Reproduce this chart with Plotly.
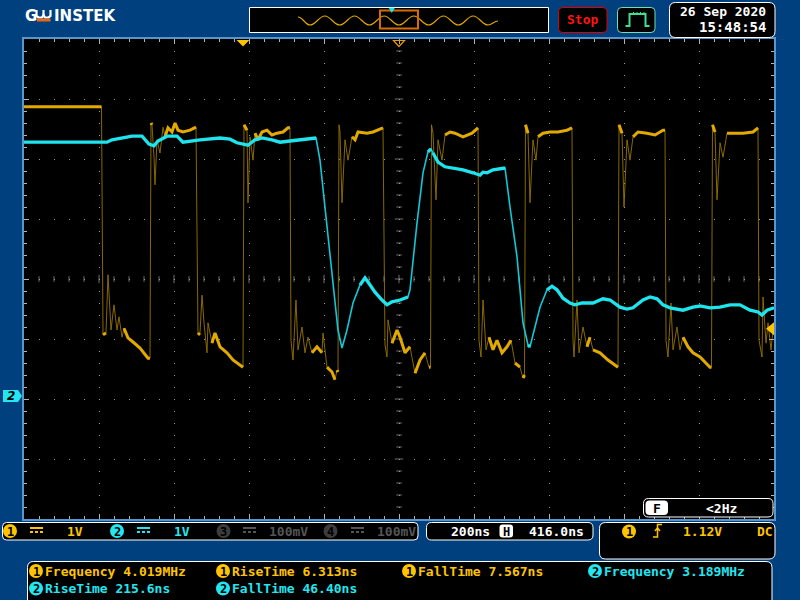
import plotly.graph_objects as go

time_per_div_ns = 200
horiz_pos_ns = 416.0
volts_per_div = 1.0
screen_center_v = 1.95          # ground of both channels sits 1.95 div below centre
trigger_level_v = 1.12
trigger_time_ns = 0.0

ch1_time_ns = [
    -584, -377.3, -373.3, -365.3, -360, -352, -344, -336, -330.7, -322.7, -317.3, -306.7, -293.3, -274.7, -253.3, -248,
    -245.3, -242.7, -237.3, -234.7, -229.3, -221.3, -213.3, -208, -200, -189.3, -181.3, -173.3, -160, -141.3, -128, -125.3,
    -120, -114.7, -109.3, -104, -96, -93.3, -82.7, -74.7, -61.3, -42.7, -26.7, -2.7, 0,
    2.7, 10.7, 13.3, 18.7, 26.7, 32, 40, 50.7, 64, 77.3, 90.7, 106.7, 120, 125.3,
    128, 133.3, 141.3, 146.7, 157.3, 165.3, 173.3, 184, 197.3, 210.7, 213.3, 224, 237.3, 245.3, 250.7, 253.3,
    256, 258.7, 264, 272, 280, 290.7, 298.7, 306.7, 330.7, 346.7, 370.7, 373.3,
    378.7, 384, 386.7, 397.3, 410.7, 418.7, 432, 445.3, 458.7, 472, 485.3, 496, 500,
    502.7, 506.7, 514.7, 520, 530.7, 538.7, 552, 565.3, 586.7, 610.7, 624, 626.7,
    629.3, 634.7, 640, 648, 656, 666.7, 677.3, 690.7, 704, 714.7, 725.3, 738.7, 746.7, 750.7,
    753.3, 760, 765.3, 773.3, 781.3, 786.7, 800, 818.7, 840, 864, 874.7, 877.3,
    880, 882.7, 890.7, 896, 906.7, 917.3, 925.3, 933.3, 952, 973.3, 997.3, 1000,
    1002.7, 1010.7, 1016, 1024, 1032, 1040, 1053.3, 1077.3, 1098.7, 1120, 1125.3,
    1128, 1133.3, 1141.3, 1146.7, 1157.3, 1165.3, 1173.3, 1186.7, 1200, 1218.7, 1245.3, 1249.3,
    1252, 1258.7, 1264, 1272, 1280, 1290.7, 1306.7, 1333.3, 1360, 1372, 1373.3,
    1376, 1384, 1386.7, 1394.7, 1400, 1408, 1413.3, 1416]
ch1_volts = [
    4.82, 4.82, 1.02, 1.05, 2.02, 1.10, 1.52, 1.10, 1.32, 0.98, 1.13, 0.97, 0.90, 0.80, 0.63, 0.63,
    4.55, 4.52, 3.98, 3.52, 4.27, 4.05, 4.48, 4.32, 4.47, 4.40, 4.55, 4.43, 4.40, 4.43, 4.48, 4.48,
    1.02, 1.05, 1.68, 1.22, 0.72, 1.22, 0.88, 1.05, 0.82, 0.72, 0.60, 0.48, 0.48,
    4.52, 4.43, 3.22, 4.32, 3.93, 4.38, 4.27, 4.40, 4.43, 4.35, 4.38, 4.40, 4.47, 4.47,
    0.93, 0.60, 1.60, 0.77, 1.15, 0.72, 0.98, 0.72, 0.82, 0.72, 1.05, 0.48, 0.40, 0.27, 0.43, 0.40,
    4.52, 4.40, 3.22, 4.27, 3.93, 4.32, 4.27, 4.40, 4.38, 4.40, 4.47, 4.47,
    0.85, 0.65, 1.27, 0.88, 1.10, 0.98, 0.72, 0.82, 0.38, 0.60, 0.72, 0.48, 0.48,
    4.52, 4.38, 3.27, 4.27, 3.93, 4.35, 4.40, 4.38, 4.32, 4.38, 4.47, 4.47,
    0.93, 0.65, 1.60, 0.77, 0.98, 0.77, 0.93, 0.72, 0.82, 0.93, 0.55, 0.48, 0.30, 0.35,
    4.52, 4.38, 3.22, 4.27, 3.93, 4.32, 4.38, 4.40, 4.40, 4.43, 4.47, 4.47,
    0.93, 0.65, 1.60, 0.72, 1.15, 0.82, 0.98, 0.77, 0.72, 0.60, 0.48, 0.48,
    4.52, 4.38, 3.15, 4.27, 3.93, 4.32, 4.40, 4.38, 4.35, 4.43, 4.43,
    0.93, 0.65, 1.55, 0.77, 1.15, 0.77, 0.98, 0.82, 0.72, 0.65, 0.48, 0.48,
    4.52, 4.40, 3.27, 4.22, 3.98, 4.38, 4.38, 4.38, 4.40, 4.47, 4.47,
    0.93, 0.65, 1.65, 0.88, 1.22, 0.77, 1.10, 1.02]

ch2_time_ns = [
    -584, -362.7, -349.3, -314.7, -296, -269.3, -250.7, -237.3, -226.7, -202.7, -176, -160, -114.7, -61.3, -34.7,
    -16, 13.3, 32, 50.7, 77.3, 98.7, 125.3, 152, 178.7, 194.7,
    205.3, 232, 253.3, 264, 277.3, 293.3, 312, 325.3, 333.3, 352, 370.7, 384, 397.3, 418.7, 440,
    445.3, 464, 480, 493.3, 501.3, 506.7, 520, 538.7, 560, 586.7, 613.3, 632, 640, 650.7, 666.7, 698.7,
    712, 730.7, 746.7, 760, 765.3, 773.3, 792, 810.7, 824, 837.3, 853.3, 872, 885.3, 904, 933.3, 960, 978.7,
    1005.3, 1024, 1040, 1066.7, 1085.3, 1104, 1120, 1138.7, 1173.3, 1200, 1218.7, 1245.3, 1272, 1298.7,
    1325.3, 1352, 1373.3, 1384, 1397.3, 1416]
ch2_volts = [
    4.23, 4.23, 4.27, 4.30, 4.33, 4.33, 4.20, 4.17, 4.25, 4.33, 4.33, 4.23, 4.27, 4.30, 4.28,
    4.22, 4.18, 4.27, 4.30, 4.27, 4.23, 4.25, 4.27, 4.30, 4.30,
    3.93, 2.35, 1.10, 0.80, 1.10, 1.55, 1.85, 1.97, 1.90, 1.73, 1.60, 1.52, 1.57, 1.60, 1.65,
    1.77, 2.88, 3.72, 4.07, 4.12, 4.05, 3.90, 3.82, 3.80, 3.77, 3.72, 3.68, 3.73, 3.72, 3.77, 3.80,
    3.15, 2.32, 1.22, 0.85, 0.82, 1.02, 1.48, 1.77, 1.83, 1.77, 1.63, 1.55, 1.52, 1.55, 1.55, 1.62, 1.60,
    1.48, 1.45, 1.47, 1.60, 1.65, 1.62, 1.52, 1.47, 1.43, 1.48, 1.50, 1.47, 1.48, 1.52,
    1.52, 1.43, 1.40, 1.35, 1.43, 1.47]

channel_scales = ["1V", "1V", "100mV", "100mV"]
timebase_text = "200ns"
hpos_text = "416.0ns"
trigger_text = "1.12V"
coupling_text = "DC"
counter_text = "<2Hz"
meas_row1 = [("1", "Frequency 4.019MHz"), ("1", "RiseTime 6.313ns"), ("1", "FallTime 7.567ns"), ("2", "Frequency 3.189MHz")]
meas_row2 = [("2", "RiseTime 215.6ns"), ("2", "FallTime 46.40ns")]
date_text = "26 Sep 2020"
time_text = "15:48:54"

# ---------------- styling helpers ----------------
W, H = 800, 600
BG = "#00407F"
YEL = "#FFC400"
CYN = "#22E6F0"
MONO = "DejaVu Sans Mono"
NS_PER_PX = time_per_div_ns / 75.0
V_PER_PX = volts_per_div / 60.0

x_range = [horiz_pos_ns - 5 * time_per_div_ns, horiz_pos_ns + 5 * time_per_div_ns]
y_range = [screen_center_v - 4 * volts_per_div, screen_center_v + 4 * volts_per_div]


def PX(x):
    return x / W


def PY(y):
    return 1 - y / H


shapes = []
annotations = []


def rrect(x0, y0, x1, y1, r, line="white", fill="black", width=1):
    p = (f"M{PX(x0 + r)},{PY(y0)} L{PX(x1 - r)},{PY(y0)} Q{PX(x1)},{PY(y0)} {PX(x1)},{PY(y0 + r)} "
         f"L{PX(x1)},{PY(y1 - r)} Q{PX(x1)},{PY(y1)} {PX(x1 - r)},{PY(y1)} "
         f"L{PX(x0 + r)},{PY(y1)} Q{PX(x0)},{PY(y1)} {PX(x0)},{PY(y1 - r)} "
         f"L{PX(x0)},{PY(y0 + r)} Q{PX(x0)},{PY(y0)} {PX(x0 + r)},{PY(y0)} Z")
    shapes.append(dict(type="path", xref="paper", yref="paper", path=p,
                       line=dict(color=line if line else "rgba(0,0,0,0)", width=width if line else 0),
                       fillcolor=fill, layer="above"))


def rect(x0, y0, x1, y1, fill):
    shapes.append(dict(type="rect", xref="paper", yref="paper", x0=PX(x0), x1=PX(x1), y0=PY(y1), y1=PY(y0),
                       fillcolor=fill, line=dict(width=0), layer="above"))


def poly(pts, color, width=1.5, fill=None, close=False):
    p = "M" + " L".join(f"{PX(x)},{PY(y)}" for x, y in pts) + (" Z" if close else "")
    shapes.append(dict(type="path", xref="paper", yref="paper", path=p,
                       line=dict(color=color, width=width), fillcolor=fill if fill else "rgba(0,0,0,0)",
                       layer="above"))


def text(x, y, s, color="white", size=13, anchor="left", family=MONO, bold=True):
    annotations.append(dict(x=PX(x), y=PY(y), xref="paper", yref="paper",
                            text=f"<b>{s}</b>" if bold else s, showarrow=False,
                            xanchor=anchor, yanchor="middle", borderpad=0,
                            font=dict(family=family, size=size, color=color)))


def badge(cx, cy, digit, fill, r=7):
    shapes.append(dict(type="circle", xref="paper", yref="paper", x0=PX(cx - r), x1=PX(cx + r),
                       y0=PY(cy + r), y1=PY(cy - r), fillcolor=fill, line=dict(width=0), layer="above"))
    text(cx, cy + 0.5, digit, color="black", size=12, anchor="center")


def dc_symbol(x0, y, color):
    rect(x0, y - 3, x0 + 13, y - 1, color)
    for k in range(3):
        rect(x0 + 5 * k, y + 1, x0 + 5 * k + 3, y + 3, color)


def split_dwell(ts, vs, max_slope):
    xs, ys = [], []
    for i in range(len(ts)):
        xs.append(ts[i])
        ys.append(vs[i])
        if i < len(ts) - 1:
            dt = max(ts[i + 1] - ts[i], 1e-9)
            slope = abs(vs[i + 1] - vs[i]) / V_PER_PX / (dt / NS_PER_PX)
            if slope > max_slope:
                xs.append(None)
                ys.append(None)
    return xs, ys


# ---------------- figure ----------------
fig = go.Figure()

# centre-cross ticks of the graticule
cx_ticks = [x_range[0] + 40 * k for k in range(1, 50)]
cy_ticks = [round(y_range[0] + 0.2 * k, 3) for k in range(1, 40)]
fig.add_trace(go.Scatter(x=cx_ticks, y=[screen_center_v] * len(cx_ticks), mode="markers", hoverinfo="skip",
                         marker=dict(symbol="line-ns", size=[6 if k % 5 == 0 else 4 for k in range(1, 50)],
                                     line=dict(color="#a0a0a0", width=1))))
fig.add_trace(go.Scatter(x=[horiz_pos_ns] * len(cy_ticks), y=cy_ticks, mode="markers", hoverinfo="skip",
                         marker=dict(symbol="line-ew", size=[6 if k % 5 == 0 else 4 for k in range(1, 40)],
                                     line=dict(color="#a0a0a0", width=1))))

# channel 1
fig.add_trace(go.Scatter(x=ch1_time_ns, y=ch1_volts, mode="lines", hoverinfo="skip",
                         line=dict(color="rgba(150,115,0,0.9)", width=1)))
tx, ty = split_dwell(ch1_time_ns, ch1_volts, 3.5)
fig.add_trace(go.Scatter(x=tx, y=ty, mode="lines", hoverinfo="skip", connectgaps=False,
                         line=dict(color="#E2AA00", width=3)))
# channel 2
fig.add_trace(go.Scatter(x=ch2_time_ns, y=ch2_volts, mode="lines", hoverinfo="skip",
                         line=dict(color="#10C8D8", width=1.6)))
tx, ty = split_dwell(ch2_time_ns, ch2_volts, 2.0)
fig.add_trace(go.Scatter(x=tx, y=ty, mode="lines", hoverinfo="skip", connectgaps=False,
                         line=dict(color="#1EE4EE", width=3.3)))

# trigger position marker (top, t = 0) and screen-centre marker
hw = 6.5 * NS_PER_PX
shapes.append(dict(type="path", xref="x", yref="paper", layer="above", fillcolor=YEL, line=dict(width=0),
                   path=f"M{trigger_time_ns - hw},{PY(40)} L{trigger_time_ns + hw},{PY(40)} L{trigger_time_ns},{PY(46.5)} Z"))
hw2 = 5.5 * NS_PER_PX
shapes.append(dict(type="path", xref="x", yref="paper", layer="above", fillcolor="rgba(0,0,0,0)",
                   line=dict(color="#E89A00", width=1.2),
                   path=f"M{horiz_pos_ns - hw2},{PY(40.5)} L{horiz_pos_ns + hw2},{PY(40.5)} L{horiz_pos_ns},{PY(46.5)} Z"))
# trigger level marker (right edge)
tl = 8 * NS_PER_PX
dv = 6.5 * V_PER_PX
shapes.append(dict(type="path", xref="x", yref="y", layer="above", fillcolor=YEL, line=dict(width=0),
                   path=f"M{x_range[1]},{trigger_level_v + dv} L{x_range[1]},{trigger_level_v - dv} "
                        f"L{x_range[1] - tl},{trigger_level_v} Z"))
# channel-2 ground marker (left, 0 V)
g = 6 * V_PER_PX
shapes.append(dict(type="path", xref="paper", yref="y", layer="above", fillcolor=CYN, line=dict(width=0),
                   path=f"M{PX(3)},{g} L{PX(18)},{g} L{PX(22)},0 L{PX(18)},{-g} L{PX(3)},{-g} Z"))
annotations.append(dict(x=PX(11), y=0, xref="paper", yref="y", text="<b><i>2</i></b>", showarrow=False,
                        xanchor="center", yanchor="middle", font=dict(family="DejaVu Sans", size=12, color="black")))

# ---------------- top bar ----------------
text(24, 16, "G", size=15, family="DejaVu Sans")
poly([(36.5, 10), (36.5, 16), (38.5, 17.5), (42, 17.5), (43.5, 15), (45, 17.5), (48.5, 17.5), (50.5, 16), (50.5, 10)],
     "white", width=2.2)
poly([(43.5, 10), (43.5, 15)], "white", width=2.2)
rect(37, 18.5, 50.5, 21.5, "#E86A10")
text(53, 16, "INSTEK", size=15, family="DejaVu Sans")

rrect(249.5, 7.5, 548.5, 32.5, 0)
ov = [(298, 17)] + [(310 + 14.83 * k, 25 if k % 2 == 0 else 16) for k in range(13)] + [(498, 21)]
pth = f"M{PX(ov[0][0])},{PY(ov[0][1])}"
for (xa, ya), (xb, yb) in zip(ov[:-1], ov[1:]):
    d = (xb - xa) * 0.4
    pth += f" C{PX(xa + d)},{PY(ya)} {PX(xb - d)},{PY(yb)} {PX(xb)},{PY(yb)}"
shapes.append(dict(type="path", xref="paper", yref="paper", path=pth, layer="above",
                   line=dict(color="#E0A800", width=1.2)))
rrect(380, 10.5, 418, 28.5, 0, line="#D86A00", fill="rgba(0,0,0,0)", width=2)
poly([(389, 8), (394.5, 8), (391.7, 12.5)], CYN, width=0.5, fill=CYN, close=True)

rrect(558.5, 7.5, 607, 32.5, 4, line="#E00000")
text(582.5, 19.5, "Stop", color="#FF1414", size=13, anchor="center")
rrect(617.5, 7.5, 655, 32.5, 4, line="#70E0B0")
poly([(625.5, 26), (629.5, 26), (629.5, 14), (645.5, 14), (645.5, 26), (649.5, 26)], "#40E090", width=2)
for xk in (633, 636.5, 640, 643.5):
    rect(xk, 12, xk + 1, 13, "#40E090")
rrect(669.5, 2.5, 775, 37.5, 6)
text(767, 11.5, date_text, size=13, anchor="right")
text(767, 27.5, time_text, size=14, anchor="right")

# ---------------- frequency counter box ----------------
rrect(643.5, 498.5, 773, 517, 5)
rrect(645.5, 500.5, 668, 515, 4, line=None, fill="white")
text(656.8, 508, "F", color="black", size=13, anchor="center")
text(705, 508, counter_text, size=13)

# ---------------- channel bar ----------------
rrect(2.5, 522.5, 418, 540, 4)
ch_fill = [YEL, CYN, "#3C3C3C", "#3C3C3C"]
ch_txt = [YEL, CYN, "#555555", "#555555"]
ch_badge_x = [10, 117, 223.5, 330.5]
ch_sym_x = [30, 137, 243, 351]
ch_scale_x = [66, 173, 268, 376]
for i in range(4):
    badge(ch_badge_x[i], 531, str(i + 1), ch_fill[i])
    dc_symbol(ch_sym_x[i], 530, ch_txt[i])
    text(ch_scale_x[i], 531, channel_scales[i], color=ch_txt[i], size=13)

# timebase box
rrect(426.5, 522.5, 593, 540, 5)
text(450, 531, timebase_text, size=13)
rrect(499.5, 524.5, 513, 537.5, 3, line=None, fill="white")
text(506.3, 531.5, "H", color="black", size=12, anchor="center")
text(527.5, 531, hpos_text, size=13)

# trigger box
rrect(599.5, 522.5, 775, 559, 6)
badge(629, 531.5, "1", YEL)
poly([(653, 537), (657.5, 537), (657.5, 524.5), (662, 524.5)], YEL, width=1.5)
poly([(655, 531), (657.5, 528), (660, 531)], YEL, width=1.5)
text(681.5, 531.5, trigger_text, color=YEL, size=13)
text(756, 531.5, coupling_text, color=YEL, size=13)

# measurement box
rrect(27.5, 561.5, 772, 606, 6)
row1_x = [36, 223, 409, 595]
for (ch, s), bx in zip(meas_row1, row1_x):
    col = YEL if ch == "1" else CYN
    badge(bx, 571, ch, col)
    text(bx + 8, 571, s, color=col, size=13)
row2_x = [36, 223]
for (ch, s), bx in zip(meas_row2, row2_x):
    col = YEL if ch == "1" else CYN
    badge(bx, 588.5, ch, col)
    text(bx + 8, 588.5, s, color=col, size=13)

# ---------------- layout ----------------
grid_col = "#9A9A9A"
tick_col = "#B4B4B4"
border_col = "#5A96C8"
fig.update_layout(
    width=W, height=H, margin=dict(l=0, r=0, t=0, b=0, pad=0),
    paper_bgcolor=BG, plot_bgcolor="black", showlegend=False,
    shapes=shapes, annotations=annotations,
    xaxis=dict(domain=[24 / W, 774 / W], range=x_range, showgrid=True, gridcolor=grid_col, gridwidth=1,
               griddash="1px,11px", tick0=x_range[0], dtick=time_per_div_ns, ticks="inside", ticklen=5,
               tickcolor=tick_col, tickwidth=1,
               minor=dict(ticks="inside", ticklen=3, dtick=40, tick0=x_range[0], tickcolor=tick_col,
                          tickwidth=1, showgrid=False),
               showline=True, linecolor=border_col, linewidth=2, mirror="ticks", zeroline=False,
               showticklabels=False, fixedrange=True),
    yaxis=dict(domain=[1 - 519 / H, 1 - 39 / H], range=y_range, showgrid=True, gridcolor=grid_col, gridwidth=1,
               griddash="1px,14px", tick0=y_range[0], dtick=volts_per_div, ticks="inside", ticklen=5,
               tickcolor=tick_col, tickwidth=1,
               minor=dict(ticks="inside", ticklen=3, dtick=0.2, tick0=y_range[0], tickcolor=tick_col,
                          tickwidth=1, showgrid=False),
               showline=True, linecolor=border_col, linewidth=2, mirror="ticks", zeroline=False,
               showticklabels=False, fixedrange=True),
)

fig.write_html("out.html", config={"displayModeBar": False, "staticPlot": True})
with open("out.html", encoding="utf-8") as f:
    html = f.read()
html = html.replace("<head>", "<head><style>html,body{margin:0;padding:0;overflow:hidden;background:#00407F}</style>", 1)
with open("out.html", "w", encoding="utf-8") as f:
    f.write(html)
